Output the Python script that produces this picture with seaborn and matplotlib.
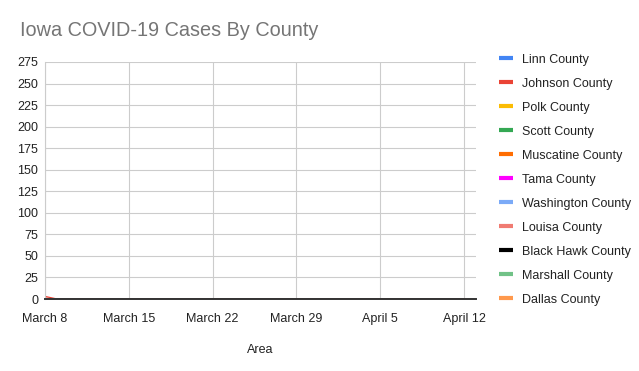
import matplotlib
matplotlib.use("Agg")
import matplotlib.pyplot as plt
import seaborn as sns
import pandas as pd
from matplotlib.lines import Line2D

counties = ["Linn County", "Johnson County", "Polk County", "Scott County",
            "Muscatine County", "Tama County", "Washington County",
            "Louisa County", "Black Hawk County", "Marshall County", "Dallas County"]
colors = ["#4285f4", "#ea4335", "#fbbc04", "#34a853", "#ff6d01", "#ff00ff",
          "#7baaf7", "#f07b72", "#000000", "#71c287", "#ff994d"]

day_offsets = list(range(36))  # days since March 8
zero_tail = [0] * 35
values = {
    "Linn County": [0] + zero_tail,
    "Johnson County": [3] + zero_tail,
    "Polk County": [0] + zero_tail,
    "Scott County": [0] + zero_tail,
    "Muscatine County": [0] + zero_tail,
    "Tama County": [0] + zero_tail,
    "Washington County": [0] + zero_tail,
    "Louisa County": [0] + zero_tail,
    "Black Hawk County": [0] + zero_tail,
    "Marshall County": [0] + zero_tail,
    "Dallas County": [0] + zero_tail,
}
tick_days = [0, 7, 14, 21, 28, 35]
tick_labels = ["March 8", "March 15", "March 22", "March 29", "April 5", "April 12"]
y_ticks = list(range(0, 276, 25))

rows = []
for c in counties:
    for d, v in zip(day_offsets, values[c]):
        rows.append({"day": d, "cases": v, "county": c})
df = pd.DataFrame(rows)

sns.set_theme(style="white")
plt.rcParams["font.family"] = ["Liberation Sans", "DejaVu Sans"]

fig = plt.figure(figsize=(6.39, 3.71), dpi=100)
ax = fig.add_axes([45 / 639, 1 - 299 / 371, (476 - 45) / 639, (299 - 62) / 371])

palette = dict(zip(counties, colors))
sns.lineplot(data=df, x="day", y="cases", hue="county", palette=palette,
             ax=ax, legend=False, linewidth=0.9)
for c in counties:
    ax.fill_between(day_offsets, values[c], color=palette[c], alpha=0.3, linewidth=0)

ax.set_xlim(0, 36)
ax.set_ylim(0, 275)
ax.set_yticks(y_ticks)
ax.set_yticklabels([str(t) for t in y_ticks], fontsize=9, color="#222222")
ax.set_xticks(tick_days)
ax.set_xticklabels(tick_labels, fontsize=9, color="#222222")
ax.tick_params(axis="x", length=0, pad=10)
ax.tick_params(axis="y", length=0, pad=5)
ax.grid(True, color="#cccccc", linewidth=0.8)
ax.set_axisbelow(True)
for s in ["top", "right"]:
    ax.spines[s].set_visible(False)
ax.spines["left"].set_color("#cccccc")
ax.spines["left"].set_linewidth(0.8)
ax.spines["bottom"].set_color("#333333")
ax.spines["bottom"].set_linewidth(1.4)
ax.spines["bottom"].set_zorder(10)
ax.set_xlabel("Area", fontsize=9, color="#222222", labelpad=14)
ax.set_ylabel("")

fig.text(20 / 639, 1 - 31 / 371, "Iowa COVID-19 Cases By County", fontsize=14.3,
         color="#757575", va="center", ha="left")

handles = [Line2D([0], [0], color=col, linewidth=3, solid_capstyle="butt") for col in colors]
leg = fig.legend(handles, counties, loc="upper left",
                 bbox_to_anchor=(499 / 639, 1 - 53.5 / 371), frameon=False,
                 fontsize=9, handlelength=1.1, handletextpad=0.7,
                 labelspacing=0.96, borderaxespad=0, borderpad=0)
for t in leg.get_texts():
    t.set_color("#222222")

fig.savefig("out.png", dpi=100)
